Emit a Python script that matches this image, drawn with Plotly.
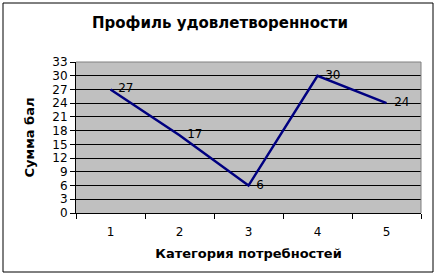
import plotly.graph_objects as go

categories = ["1", "2", "3", "4", "5"]
values = [27, 17, 6, 30, 24]
y_ticks = list(range(0, 34, 3))

title_text = "Профиль удовлетворенности"
x_title = "Категория потребностей"
y_title = "Сумма бал"

L, R, T, B = 76, 19, 62, 67
W, H = 440, 280
pw, ph = W - L - R, H - T - B

fig = go.Figure()
fig.add_trace(go.Scatter(
    x=categories, y=values, mode="lines+text",
    line=dict(color="#000080", width=2.5),
    text=["  " + str(v) for v in values],
    textposition="middle right",
    textfont=dict(family="DejaVu Sans", size=12, color="#000000"),
    cliponaxis=False, showlegend=False,
))

fig.update_layout(
    width=W, height=H,
    margin=dict(l=L, r=R, t=T, b=B),
    paper_bgcolor="white",
    plot_bgcolor="#C0C0C0",
    title=dict(text="<b>" + title_text + "</b>", x=0.5, xanchor="center",
               y=1 - 23 / H, yanchor="middle",
               font=dict(family="DejaVu Sans", size=15, color="black")),
    xaxis=dict(type="category", range=[-0.5, 4.5], tickson="boundaries",
               ticks="outside", ticklen=5, ticklabelstandoff=8,
               tickcolor="black", showline=True, linecolor="black", linewidth=1,
               showgrid=False, tickfont=dict(family="DejaVu Sans", size=12, color="black"),
               title=dict(text="<b>" + x_title + "</b>", standoff=10,
                          font=dict(family="DejaVu Sans", size=13, color="black"))),
    yaxis=dict(range=[0, 33], tickvals=y_ticks, ticks="outside", ticklen=5,
               tickcolor="black", showline=True, linecolor="black", linewidth=1,
               showgrid=True, gridcolor="black", gridwidth=1, zeroline=False,
               tickfont=dict(family="DejaVu Sans", size=12, color="black"),
               title=dict(text="<b>" + y_title + "</b>", standoff=14,
                          font=dict(family="DejaVu Sans", size=13, color="black"))),
    shapes=[
        dict(type="line", xref="paper", yref="paper", x0=0, x1=1, y0=1, y1=1,
             line=dict(color="#808080", width=1), layer="above"),
        dict(type="line", xref="paper", yref="paper", x0=1, x1=1, y0=0, y1=1,
             line=dict(color="#808080", width=1), layer="above"),
        dict(type="rect", xref="paper", yref="paper",
             x0=(3 - L) / pw, x1=(433 - L) / pw,
             y0=(8 - B) / ph, y1=(277 - B) / ph,
             line=dict(color="black", width=1)),
    ],
)

fig.write_html("out.html")
